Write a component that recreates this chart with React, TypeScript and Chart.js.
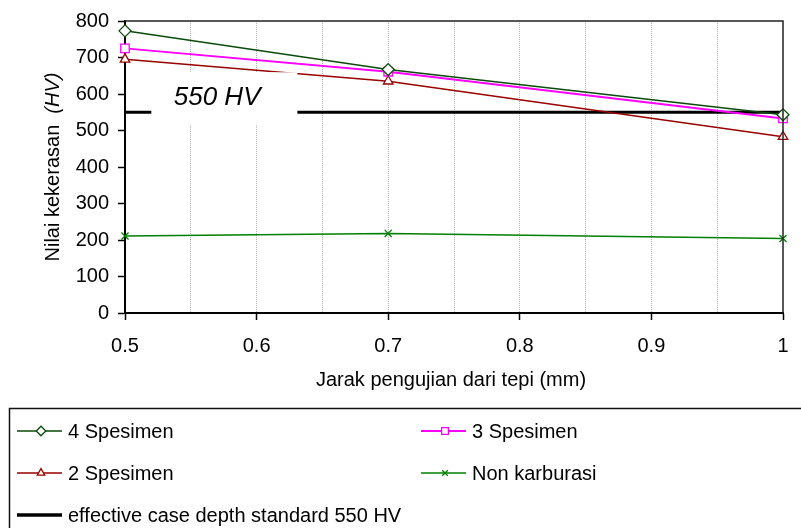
import { useEffect, useRef } from 'react';
import { Chart, registerables } from 'chart.js';
import { drawPoint } from 'chart.js/helpers';

Chart.register(...registerables);

// ---- data ----
const distances = [0.5, 0.7, 1];
const spesimen4 = [773, 667, 543];
const spesimen3 = [725, 661, 533];
const spesimen2 = [695, 635, 483];
const nonKarburasi = [211, 218, 204];
const standardHV = 550;
const standardLabel = '550 HV';
const seriesLabels = ['4 Spesimen', '3 Spesimen', '2 Spesimen', 'Non karburasi', 'effective case depth standard 550 HV'];
const xTitle = 'Jarak pengujian dari tepi (mm)';
const yTitleMain = 'Nilai kekerasan  ';
const yTitleUnit = '(HV)';

const FONT = "'Liberation Sans', Arial, sans-serif";

export default function App() {
  const ref = useRef<HTMLCanvasElement>(null);

  useEffect(() => {
    const canvas = ref.current!;
    const mk = (label: string, vals: number[], color: string, style: any, radius: number, width: number) => ({
      label,
      data: distances.map((x, i) => ({ x, y: vals[i] })),
      borderColor: color,
      backgroundColor: '#fff',
      borderWidth: width,
      pointStyle: style,
      pointRadius: radius,
      pointHoverRadius: radius,
      pointBorderColor: color,
      pointBackgroundColor: '#fff',
      pointBorderWidth: 1.3,
      tension: 0,
      clip: false as any,
    });

    const datasets: any[] = [
      mk(seriesLabels[0], spesimen4, '#0a4a0a', 'rectRot', 6, 1.5),
      mk(seriesLabels[1], spesimen3, '#ff00ff', 'rect', 6, 2),
      mk(seriesLabels[2], spesimen2, '#990000', 'triangle', 5.5, 1.5),
      mk(seriesLabels[3], nonKarburasi, '#008000', 'crossRot', 5, 1.5),
      {
        label: seriesLabels[4],
        data: [
          { x: distances[0], y: standardHV },
          { x: distances[distances.length - 1], y: standardHV },
        ],
        borderColor: '#000',
        borderWidth: 3,
        pointRadius: 0,
        pointHoverRadius: 0,
        clip: false,
      },
    ];

    const deco = {
      id: 'deco',
      afterDatasetsDraw(chart: any) {
        const { ctx, chartArea: a, scales } = chart;
        const xs = scales.x, ys = scales.y;
        const yStd = ys.getPixelForValue(standardHV);
        // white label box over the standard line
        const bx1 = xs.getPixelForValue(0.52);
        const bx2 = xs.getPixelForValue(0.631);
        ctx.save();
        ctx.fillStyle = '#fff';
        ctx.fillRect(bx1, yStd - 40, bx2 - bx1, 53);
        ctx.fillStyle = '#000';
        ctx.font = `italic 26px ${FONT}`;
        ctx.textAlign = 'center';
        ctx.textBaseline = 'middle';
        ctx.fillText(standardLabel, xs.getPixelForValue(0.57), yStd - 14);
        // frame top/right
        ctx.strokeStyle = '#222';
        ctx.lineWidth = 1.5;
        ctx.beginPath();
        ctx.moveTo(a.left, a.top);
        ctx.lineTo(a.right, a.top);
        ctx.lineTo(a.right, a.bottom);
        ctx.stroke();
        ctx.restore();
      },
      afterDraw(chart: any) {
        const { ctx, chartArea: a } = chart;
        ctx.save();
        ctx.fillStyle = '#000';
        // x title
        ctx.font = `20px ${FONT}`;
        ctx.textAlign = 'center';
        ctx.textBaseline = 'middle';
        ctx.fillText(xTitle, (a.left + a.right) / 2 - 3, 380);
        // y title
        ctx.save();
        ctx.translate(53, (a.top + a.bottom) / 2);
        ctx.rotate(-Math.PI / 2);
        ctx.font = `20px ${FONT}`;
        const w1 = ctx.measureText(yTitleMain).width;
        ctx.font = `italic 20px ${FONT}`;
        const w2 = ctx.measureText(yTitleUnit).width;
        const start = -(w1 + w2) / 2;
        ctx.textAlign = 'left';
        ctx.font = `20px ${FONT}`;
        ctx.fillText(yTitleMain, start, 0);
        ctx.font = `italic 20px ${FONT}`;
        ctx.fillText(yTitleUnit, start + w1, 0);
        ctx.restore();

        // legend
        ctx.strokeStyle = '#111';
        ctx.lineWidth = 1.5;
        ctx.strokeRect(9.5, 408.5, 820, 200);
        const pos = [
          { x: 17, y: 431 },
          { x: 421, y: 431 },
          { x: 17, y: 473 },
          { x: 421, y: 473 },
          { x: 17, y: 515 },
        ];
        chart.data.datasets.forEach((ds: any, i: number) => {
          const p = pos[i];
          ctx.strokeStyle = ds.borderColor;
          ctx.lineWidth = i === 4 ? 3.5 : ds.borderWidth;
          ctx.beginPath();
          ctx.moveTo(p.x, p.y);
          ctx.lineTo(p.x + 45, p.y);
          ctx.stroke();
          if (ds.pointRadius > 0) {
            ctx.fillStyle = '#fff';
            ctx.strokeStyle = ds.pointBorderColor;
            ctx.lineWidth = 1.3;
            drawPoint(ctx, { pointStyle: ds.pointStyle, radius: ds.pointRadius * 0.8, rotation: 0, borderWidth: 1.3 } as any, p.x + 24, p.y);
          }
          ctx.fillStyle = '#000';
          ctx.font = `20px ${FONT}`;
          ctx.textAlign = 'left';
          ctx.textBaseline = 'middle';
          ctx.fillText(ds.label, p.x + 51, p.y + 1);
        });
        ctx.restore();
      },
    };

    const chart = new Chart(canvas, {
      type: 'line',
      data: { datasets },
      options: {
        animation: false,
        responsive: false,
        events: [],
        layout: { padding: { left: 0, top: 21, right: 18, bottom: 0 } },
        plugins: { legend: { display: false }, tooltip: { enabled: false }, title: { display: false } },
        scales: {
          x: {
            type: 'linear',
            min: 0.5,
            max: 1,
            afterFit: (s: any) => { s.height = 215; s.paddingLeft = 0; s.paddingRight = 0; },
            ticks: {
              stepSize: 0.05,
              autoSkip: false,
              maxRotation: 0,
              color: '#000',
              font: { family: FONT, size: 20 },
              padding: 14,
              callback: (v: any) => {
                const r = Math.round(Number(v) * 100);
                if (r % 10 !== 0) return '';
                return String(r / 100);
              },
            },
            grid: {
              color: (c: any) => {
                const r = Math.round(c.tick?.value * 100);
                return r === 50 || r === 100 ? 'rgba(0,0,0,0)' : '#b4b4b4';
              },
              lineWidth: 1,
              tickLength: 7,
              tickWidth: 1.5,
              tickColor: (c: any) => {
                const r = Math.round(c.tick?.value * 100);
                return r % 10 === 0 ? '#000' : 'rgba(0,0,0,0)';
              },
            },
            border: { display: true, color: '#000', width: 2, dash: [1, 1] },
          },
          y: {
            type: 'linear',
            min: 0,
            max: 800,
            afterFit: (s: any) => { s.width = 125; s.paddingTop = 0; s.paddingBottom = 0; },
            ticks: {
              stepSize: 100,
              color: '#000',
              font: { family: FONT, size: 20 },
              padding: 9,
            },
            grid: {
              drawOnChartArea: false,
              tickLength: 7,
              tickWidth: 1.5,
              tickColor: '#000',
            },
            border: { display: true, color: '#000', width: 2 },
          },
        },
      },
      plugins: [deco],
    });
    return () => chart.destroy();
  }, []);

  return (
    <div style={{ position: 'fixed', left: 0, top: 0, width: 801, height: 528, background: '#fff' }}>
      <canvas ref={ref} width={801} height={528} style={{ width: 801, height: 528, display: 'block' }} />
    </div>
  );
}
